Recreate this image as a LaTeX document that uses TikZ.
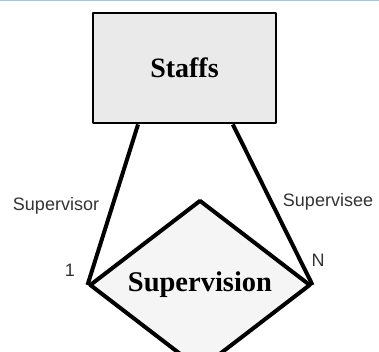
\documentclass[tikz,border=0pt]{standalone}
\usepackage{fontspec}
\setmainfont{Liberation Serif}
\setsansfont{Liberation Sans}
\usetikzlibrary{shapes.geometric,calc}
\definecolor{boxgray}{RGB}{234,234,234}
\definecolor{topblue}{RGB}{160,200,235}
\tikzset{
	entity/.style={
		shape = rectangle,
		draw,
		line width = 2.8pt,
		fill = boxgray,
		minimum width = 183pt,
		minimum height = 110pt,
		inner sep = 0pt,
		font = \fontsize{28}{30}\selectfont\bfseries
	},
	relation/.style={
		shape = diamond,
		draw,
		line width = 4pt,
		fill = gray!8,
		minimum width = 221pt,
		minimum height = 130pt,
		inner sep = 0pt,
		font = \fontsize{28.5}{30}\selectfont\bfseries
	},
	lbl/.style={
		inner sep = 0pt,
		text = black!80,
		font = \sffamily\fontsize{18}{20}\selectfont
	},
	edge/.style={
		line width = 4pt
	},
}

\begin{document}
\begin{tikzpicture}[x=1pt, y=-1pt, line join=round]
    \useasboundingbox (0,0) rectangle (379,351);
    \draw[topblue, line width=1.5pt] (0,0.5) -- (379,0.5);
    \node[entity] (staffs) at (184.5,68) {Staffs};
    \node[relation] (supervision) at (200,285) {\raisebox{-4pt}{Supervision}};
    \coordinate (lfoot) at ($(staffs.south west)!0.25!(staffs.south east)$);
    \coordinate (rfoot) at ($(staffs.south west)!0.76!(staffs.south east)$);
    \draw[edge] (lfoot) -- (supervision.west);
    \draw[edge] (rfoot) -- (supervision.east);
    \node[lbl] (supervisor) at (56,206) {Supervisor};
    \node[lbl] (supervisee) at (328,202) {Supervisee};
    \node[lbl] (one) at (70,270) {1};
    \node[lbl] (many) at (318,260) {N};
  \end{tikzpicture}
\end{document}
